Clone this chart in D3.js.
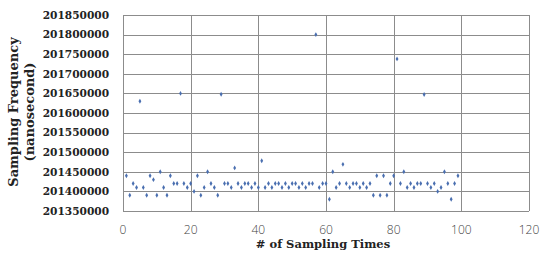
<!DOCTYPE html>
<html>
<head>
<meta charset="utf-8">
<script src="https://cdn.jsdelivr.net/npm/d3@7"></script>
<style>
  body { margin: 0; background: #fff; }
  svg { display: block; }
</style>
</head>
<body>
<div id="vis"></div>
<script>
// sample number and measured sampling period (ns)
var sampleIdx = [];
for (var i = 1; i <= 99; i++) sampleIdx.push(i);

var sampleVal = [
  201440000, 201390000, 201420000, 201410000, 201630000, 201410000, 201390000, 201440000, 201430000, 201390000,
  201450000, 201410000, 201390000, 201440000, 201420000, 201420000, 201650000, 201420000, 201410000, 201420000,
  201400000, 201440000, 201390000, 201410000, 201450000, 201420000, 201410000, 201390000, 201648000, 201420000,
  201420000, 201410000, 201460000, 201420000, 201410000, 201420000, 201420000, 201410000, 201420000, 201410000,
  201478000, 201410000, 201420000, 201410000, 201420000, 201420000, 201410000, 201420000, 201410000, 201420000,
  201420000, 201410000, 201420000, 201410000, 201420000, 201420000, 201800000, 201410000, 201420000, 201420000,
  201380000, 201450000, 201410000, 201420000, 201469000, 201420000, 201410000, 201420000, 201420000, 201410000,
  201420000, 201410000, 201420000, 201390000, 201440000, 201390000, 201440000, 201390000, 201420000, 201440000,
  201738000, 201420000, 201450000, 201410000, 201420000, 201410000, 201420000, 201420000, 201647000, 201420000,
  201410000, 201420000, 201400000, 201410000, 201450000, 201420000, 201380000, 201420000, 201440000
];

var xTicks = [0, 20, 40, 60, 80, 100, 120];
var yTicks = [201350000, 201400000, 201450000, 201500000, 201550000, 201600000,
              201650000, 201700000, 201750000, 201800000, 201850000];

var width = 542, height = 259;
var plot = {left: 123, right: 529, top: 15, bottom: 211};

var svg = d3.select("#vis").append("svg")
  .attr("width", width)
  .attr("height", height);

var x = d3.scaleLinear().domain([0, 120]).range([plot.left, plot.right]);
var y = d3.scaleLinear().domain([201350000, 201850000]).range([plot.bottom, plot.top]);

// grid lines
svg.append("g")
  .selectAll("line.h")
  .data(yTicks)
  .enter().append("line")
    .attr("x1", plot.left).attr("x2", plot.right)
    .attr("y1", function(d) { return Math.round(y(d)) + 0.5; })
    .attr("y2", function(d) { return Math.round(y(d)) + 0.5; })
    .attr("stroke", "#8c8c8c")
    .attr("stroke-width", 1);

svg.append("g")
  .selectAll("line.v")
  .data(xTicks)
  .enter().append("line")
    .attr("y1", plot.top).attr("y2", plot.bottom)
    .attr("x1", function(d) { return Math.round(x(d)) + 0.5; })
    .attr("x2", function(d) { return Math.round(x(d)) + 0.5; })
    .attr("stroke", "#8c8c8c")
    .attr("stroke-width", 1);

// y tick labels
svg.append("g")
  .selectAll("text")
  .data(yTicks)
  .enter().append("text")
    .attr("x", plot.left - 14)
    .attr("y", function(d) { return y(d); })
    .attr("dy", "0.36em")
    .attr("text-anchor", "end")
    .style("font-family", "DejaVu Serif")
    .style("font-weight", "bold")
    .style("font-size", "10.6px")
    .style("fill", "#222")
    .text(function(d) { return d; });

// x tick labels
svg.append("g")
  .selectAll("text")
  .data(xTicks)
  .enter().append("text")
    .attr("x", function(d) { return x(d); })
    .attr("y", plot.bottom + 23)
    .attr("text-anchor", "middle")
    .style("font-family", "Open Sans")
    .style("font-weight", "300")
    .style("font-size", "12px")
    .style("fill", "#444")
    .text(function(d) { return d; });

// points
svg.append("g")
  .selectAll("path")
  .data(sampleIdx)
  .enter().append("path")
    .attr("transform", function(d, i) { return "translate(" + x(d) + "," + y(sampleVal[i]) + ")"; })
    .attr("d", d3.symbol().type(d3.symbolDiamond).size(7))
    .style("fill", "#4a6fb0");

// axis titles
svg.append("text")
  .attr("x", (plot.left + plot.right) / 2 - 3)
  .attr("y", 248)
  .attr("text-anchor", "middle")
  .style("font-family", "DejaVu Serif")
  .style("font-weight", "bold")
  .style("font-size", "11.5px")
  .style("fill", "#222")
  .text("# of Sampling Times");

var yTitle = svg.append("text")
  .attr("transform", "translate(18," + 112 + ") rotate(-90)")
  .attr("text-anchor", "middle")
  .style("font-family", "DejaVu Serif")
  .style("font-weight", "bold")
  .style("font-size", "13px")
  .style("fill", "#222");
yTitle.append("tspan").attr("x", 0).attr("dy", 0).text("Sampling Frequency");
yTitle.append("tspan").attr("x", 0).attr("dy", "1.2em").text("(nanosecond)");
</script>
</body>
</html>
